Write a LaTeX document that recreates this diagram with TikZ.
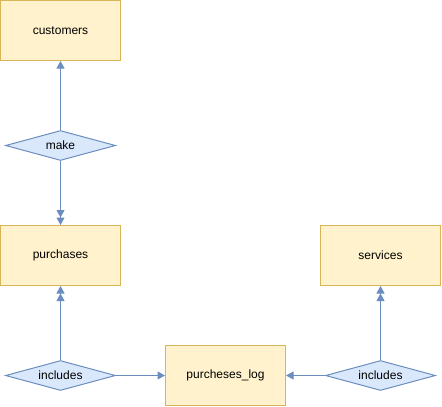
\documentclass[tikz,border=0pt]{standalone}
\usepackage{fontspec}
\setmainfont{Liberation Sans}
\usepackage{xcolor}
\definecolor{entityfill}{HTML}{FFF2CC}
\definecolor{entityline}{HTML}{D6B656}
\definecolor{relfill}{HTML}{DAE8FC}
\definecolor{relline}{HTML}{6C8EBF}
\usepackage{tikz}
\usetikzlibrary{shapes.geometric}
\usetikzlibrary{arrows.meta}
\newcommand{\widthentity}{120pt}
\newcommand{\heightentity}{60pt}
\tikzset{
    common/.style={inner sep=0pt, line width=1pt, font=\fontsize{12}{14}\selectfont},
    entity/.style={common, draw=entityline, fill=entityfill, rectangle,
        minimum width=\widthentity, minimum height=\heightentity},
    relation/.style={common, draw=relline, fill=relfill, diamond, aspect=3.67,
        minimum width=110pt, minimum height=30pt},
    link/.style={draw=relline, line width=1pt},
    one/.style={link, -{Triangle[length=7.5pt, width=8pt]}},
    many/.style={link, -{Triangle[length=7.5pt, width=8pt, sep=0pt]Triangle[length=7.5pt, width=8pt]}}
}
\begin{document}
\begin{tikzpicture}[x=1pt, y=-1pt]

      \useasboundingbox (-0.5,-0.5) rectangle (441.5,406.5);

      \path
          (60,30) node[entity] (customers) {customers}
          (60,145) node[relation] (make) {make}
          (60,255) node[entity] (purchases) {purchases}
          (380,255) node[entity] (services) {services}
          (60,375) node[relation] (incl-purchases) {includes}
          (225,375) node[entity] (purcheses-log) {purcheses\_log}
          (380,375) node[relation] (incl-services) {includes};

      \draw[one] (make) -- (customers);
      \draw[many] (make) -- (purchases);
      \draw[many] (incl-purchases) -- (purchases);
      \draw[one] (incl-purchases) -- (purcheses-log);
      \draw[many] (incl-services) -- (services);
      \draw[one] (incl-services) -- (purcheses-log);
    \end{tikzpicture}
\end{document}
